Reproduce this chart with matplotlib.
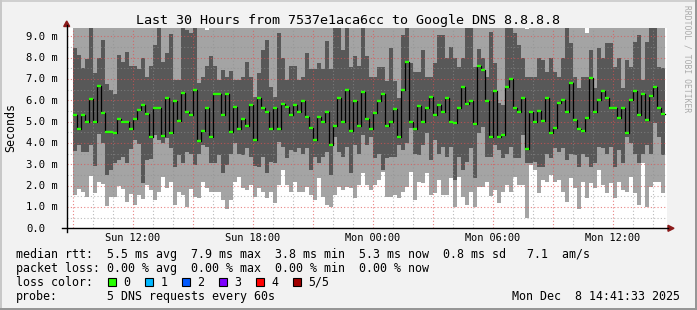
import matplotlib
matplotlib.use("Agg")
import matplotlib.pyplot as plt
from matplotlib.lines import Line2D
from matplotlib.patches import Polygon, Rectangle
import numpy as np

# smokeping style graph, 5 pings per probe, columns of 12 minutes from Sun 09:00
start_hour = 9.0
step_hours = 0.2

# top of white area (lowest ping), ms
ping_min = [1.56, 1.83, 1.72, 1.48, 2.45, 1.67, 2.19, 2.10, 1.05, 1.48,
            1.48, 1.98, 1.83, 1.25, 1.61, 1.09, 1.56, 1.39, 2.03, 1.80,
            1.33, 1.72, 2.39, 1.87, 2.19, 1.09, 1.72, 1.56, 1.02, 1.83,
            1.48, 1.41, 2.19, 1.87, 1.72, 1.72, 1.72, 1.33, 0.89, 1.33,
            2.19, 2.42, 1.87, 1.80, 2.03, 1.48, 1.87, 1.72, 1.41, 1.72,
            1.17, 2.03, 2.73, 2.03, 1.72, 2.19, 1.72, 1.72, 1.95, 1.56,
            1.33, 2.34, 1.48, 1.09, 1.02, 1.56, 1.95, 1.80, 1.95, 1.87,
            1.41, 2.03, 2.58, 2.03, 1.80, 2.03, 2.27, 2.66, 1.48, 1.48,
            1.56, 1.41, 1.72, 1.95, 2.66, 1.33, 2.19, 2.11, 2.58, 1.56,
            1.64, 2.27, 1.56, 1.56, 2.34, 1.02, 2.42, 1.48, 1.09, 1.72,
            1.02, 1.95, 1.95, 2.19, 1.52, 1.80, 1.17, 1.72, 2.03, 1.72,
            2.42, 2.03, 2.03, 0.47, 2.97, 2.73, 1.64, 2.27, 2.19, 2.50,
            2.19, 2.27, 1.72, 1.25, 2.34, 1.87, 0.89, 2.19, 1.41, 2.11,
            1.87, 2.73, 2.03, 1.64, 2.11, 1.41, 2.19, 1.80, 1.72, 2.42,
            1.64, 1.09, 3.05, 1.02, 1.95, 2.19, 2.19, 1.64]

# bottom of dark smoke (2nd ping)
ping_low = [3.64, 3.90, 3.60, 3.56, 3.90, 2.90, 4.40, 4.00, 2.50, 2.73,
            3.05, 3.20, 3.36, 3.05, 3.70, 4.14, 3.94, 2.14, 3.20, 3.25,
            4.37, 4.14, 3.98, 4.22, 3.75, 2.89, 3.44, 3.05, 3.56, 3.50,
            2.97, 3.50, 3.90, 3.83, 3.05, 3.05, 3.44, 2.58, 2.97, 3.50,
            3.98, 3.50, 3.44, 3.75, 3.36, 2.90, 2.89, 3.36, 2.58, 3.13,
            3.05, 4.06, 3.83, 3.28, 3.67, 3.60, 3.75, 3.50, 3.75, 2.73,
            3.36, 3.05, 3.36, 3.60, 2.50, 4.30, 3.60, 3.36, 3.83, 2.58,
            3.90, 3.50, 4.37, 3.90, 4.30, 3.28, 3.50, 2.73, 3.28, 3.36,
            3.36, 3.90, 3.67, 3.98, 4.69, 3.50, 3.44, 3.90, 4.45, 3.20,
            4.14, 3.50, 3.83, 3.36, 3.83, 2.27, 3.36, 2.73, 3.13, 3.75,
            2.34, 4.45, 4.77, 3.36, 3.36, 3.90, 3.67, 3.28, 3.50, 3.83,
            3.28, 3.28, 4.37, 3.05, 3.05, 3.13, 2.89, 2.89, 3.50, 3.28,
            3.75, 3.60, 3.75, 3.20, 3.50, 3.44, 2.89, 3.50, 3.36, 2.89,
            3.05, 3.83, 3.75, 3.50, 3.83, 2.89, 3.67, 3.05, 4.30, 3.98,
            3.50, 3.05, 3.50, 3.90, 3.50, 4.92, 4.30, 3.44]

median = [5.30, 4.67, 5.30, 4.98, 6.08, 4.98, 6.67, 5.42, 4.52, 4.52,
          4.48, 5.14, 4.98, 4.98, 4.67, 5.14, 5.55, 5.80, 5.38, 4.30,
          5.66, 5.66, 4.34, 6.13, 4.48, 5.97, 5.05, 6.36, 5.45, 5.33,
          6.50, 4.11, 4.58, 5.66, 4.30, 6.31, 6.31, 5.31, 6.31, 4.52,
          5.70, 4.67, 5.14, 4.81, 5.80, 4.14, 6.13, 5.66, 5.47, 4.67,
          5.66, 4.67, 5.84, 5.70, 5.33, 5.80, 5.47, 5.98, 5.23, 4.70,
          4.16, 5.23, 4.98, 5.45, 3.92, 4.80, 6.13, 4.98, 6.50, 4.58,
          5.98, 4.81, 6.40, 5.14, 4.66, 5.42, 5.98, 6.31, 4.81, 4.98,
          5.61, 4.30, 6.50, 7.81, 4.98, 4.67, 5.73, 4.98, 5.66, 6.17,
          5.33, 5.80, 5.47, 6.13, 4.98, 4.95, 5.66, 6.63, 5.84, 5.97,
          4.90, 7.61, 7.44, 5.97, 4.30, 6.44, 4.30, 4.39, 6.63, 7.02,
          5.66, 5.45, 6.13, 3.73, 5.47, 5.00, 5.50, 5.05, 6.10, 4.48,
          4.72, 5.89, 6.00, 5.47, 6.83, 5.10, 4.66, 4.58, 5.16, 7.06,
          5.47, 6.00, 6.45, 6.13, 5.66, 5.66, 5.16, 5.66, 4.48, 6.00,
          6.45, 5.31, 6.30, 5.10, 6.20, 6.64, 5.66, 5.34]

# top of dark smoke (4th ping), 9.5 = above the graph
ping_high = [8.44, 8.12, 7.53, 7.94, 9.50, 7.28, 7.97, 8.81, 6.78, 6.48,
             6.30, 8.12, 7.80, 8.27, 7.59, 7.59, 7.45, 8.00, 7.10, 7.60,
             8.60, 9.50, 7.80, 8.20, 9.10, 6.95, 6.95, 9.50, 9.30, 9.14,
             9.50, 6.80, 7.10, 7.60, 8.10, 7.60, 6.95, 7.40, 7.10, 7.35,
             6.95, 6.95, 7.10, 7.80, 7.10, 6.17, 7.30, 8.36, 8.83, 6.64,
             6.17, 9.17, 7.97, 6.95, 7.60, 7.60, 6.95, 7.10, 8.20, 7.48,
             7.48, 7.73, 7.48, 8.80, 7.48, 9.50, 9.50, 8.36, 9.50, 7.58,
             8.10, 7.60, 9.50, 8.10, 7.10, 7.10, 7.58, 7.58, 6.90, 8.44,
             6.90, 6.10, 9.06, 9.50, 7.73, 7.34, 7.34, 8.36, 7.08, 7.08,
             7.73, 9.06, 9.06, 7.97, 8.50, 7.97, 7.58, 7.97, 9.50, 9.50,
             7.58, 8.40, 8.00, 7.10, 9.20, 7.73, 5.86, 5.78, 9.50, 9.50,
             9.14, 8.60, 7.97, 7.10, 7.08, 7.08, 7.97, 7.90, 7.34, 7.97,
             7.34, 7.10, 7.97, 9.50, 8.67, 7.10, 6.56, 7.10, 7.10, 8.36,
             6.56, 8.44, 7.97, 8.67, 8.67, 7.58, 7.97, 6.56, 7.90, 7.58,
             8.75, 9.06, 6.95, 8.75, 9.50, 9.50, 7.58, 7.50]

# highest ping, mostly above the top of the graph
ping_max = [9.5] * 33 + [9.30] + [9.5] * 79 + [9.35] + [9.5] * 14 + [9.14] + [9.5] * 19

ytick_vals = [0, 1, 2, 3, 4, 5, 6, 7, 8, 9]
ytick_text = ["0.0", "1.0 m", "2.0 m", "3.0 m", "4.0 m", "5.0 m", "6.0 m", "7.0 m", "8.0 m", "9.0 m"]
xtick_hours = [12, 18, 24, 30, 36]
xtick_text = ["Sun 12:00", "Sun 18:00", "Mon 00:00", "Mon 06:00", "Mon 12:00"]
loss_labels = ["0", "1", "2", "3", "4", "5/5"]
loss_colors = ["#26ff00", "#00b8ff", "#0059ff", "#7e00ff", "#ff0000", "#a00000"]

W, H = 697, 310
MONO = "DejaVu Sans Mono"


def fx(x):
    return x / W


def fy(y):
    return 1 - y / H


def put(x, y, s, size=8.4, **kw):
    kw.setdefault("va", "baseline")
    fig.text(fx(x), fy(y), s, fontsize=size, fontfamily=MONO, **kw)


fig = plt.figure(figsize=(W / 100, H / 100), dpi=100, facecolor="#f2f2f2")

# plot area 600x200 px
x0, x1, ybot, ytop = 66.7, 666.7, 228.3, 28.3
ax = fig.add_axes([fx(x0), fy(ybot), (x1 - x0) / W, (ybot - ytop) / H])
ax.set_facecolor("white")
t0 = 8 + 41.55 / 60
ax.set_xlim(t0, t0 + 30)
ax.set_ylim(0, 9.375)
ax.set_xticks([])
ax.set_yticks([])
for s in ax.spines.values():
    s.set_visible(False)

n = len(median)
left = start_hour + step_hours * np.arange(n)
pmin = np.array(ping_min)
pmax = np.array(ping_max)
plo = np.array(ping_low)
phi = np.array(ping_high)

ax.bar(left, pmax - pmin, bottom=pmin, width=step_hours, align="edge",
       color="#a4a4a4", linewidth=0, zorder=1)
ax.bar(left, phi - plo, bottom=plo, width=step_hours, align="edge",
       color="#585858", linewidth=0, zorder=2)

# grid
for v in np.arange(0.5, 9.4, 0.5):
    major = abs(v - round(v)) < 0.01
    ax.axhline(v, color="#e05050" if major else "#909090", alpha=0.7 if major else 0.6,
               lw=0.8, dashes=(1, 2), zorder=3)
for h in range(9, 39):
    major = h % 3 == 0
    ax.axvline(h, color="#e05050" if major else "#909090", alpha=0.7 if major else 0.6,
               lw=0.8, dashes=(1, 2), zorder=3)

# median line
edges = np.append(left, left[-1] + step_hours)
ax.step(edges, median + [median[-1]], where="post", color="black", lw=0.9, zorder=4)
ax.hlines(median, left, left + step_hours, color="#26ff00", lw=1.7, zorder=5)

# axes with arrows
fig.add_artist(Line2D([fx(62), fx(668)], [fy(ybot), fy(ybot)], color="black", lw=1))
fig.add_artist(Line2D([fx(x0), fx(x0)], [fy(232), fy(25)], color="black", lw=1))
fig.add_artist(Polygon([(fx(63.7), fy(26.5)), (fx(69.7), fy(26.5)), (fx(66.7), fy(21))],
                       closed=True, color="#8b1a1a", transform=fig.transFigure))
fig.add_artist(Polygon([(fx(668), fy(225.3)), (fx(668), fy(231.3)), (fx(674), fy(228.3))],
                       closed=True, color="#8b1a1a", transform=fig.transFigure))

# tick labels
for v, s in zip(ytick_vals, ytick_text):
    put(26, ybot - 21.33 * v + 3.5, s, size=7.6)
for h, s in zip(xtick_hours, xtick_text):
    put(x0 + (h - t0) * 20, 241, s, size=7.4, ha="center")

fig.text(fx(11), fy(128), "Seconds", rotation=90, fontsize=8.4, fontfamily=MONO,
         ha="center", va="center")
put(348, 24, "Last 30 Hours from 7537e1aca6cc to Google DNS 8.8.8.8", size=9.6, ha="center")
fig.text(fx(687.5), fy(59), "RRDTOOL / TOBI OETIKER", rotation=270, fontsize=5.8,
         fontfamily=MONO, color="#aaaaaa", ha="center", va="center")

# legend
put(16, 257.7, "median rtt:  5.5 ms avg  7.9 ms max  3.8 ms min  5.3 ms now  0.8 ms sd   7.1  am/s")
put(16, 271.7, "packet loss: 0.00 % avg  0.00 % max  0.00 % min  0.00 % now")
put(16, 285.7, "loss color:")
for i, (lab, col) in enumerate(zip(loss_labels, loss_colors)):
    sx = 108.3 + 37 * i
    fig.add_artist(Rectangle((fx(sx), fy(285.5)), 8 / W, 8 / H, facecolor=col,
                             edgecolor="black", lw=0.8, transform=fig.transFigure))
    put(sx + 15, 285.7, lab)
put(16, 300, "probe:")
put(107, 300, "5 DNS requests every 60s")
put(680, 300, "Mon Dec  8 14:41:33 2025", ha="right")

# 3d frame
fig.add_artist(Rectangle((0, fy(2)), 1, 2 / H, color="#d0d0d0", transform=fig.transFigure, lw=0))
fig.add_artist(Rectangle((0, 0), 2 / W, 1, color="#c8c8c8", transform=fig.transFigure, lw=0))
fig.add_artist(Rectangle((0, 0), 1, 2.5 / H, color="#969696", transform=fig.transFigure, lw=0))
fig.add_artist(Rectangle((1 - 2.5 / W, 0), 2.5 / W, 1, color="#969696", transform=fig.transFigure, lw=0))

fig.savefig("out.png", dpi=100, facecolor=fig.get_facecolor())
